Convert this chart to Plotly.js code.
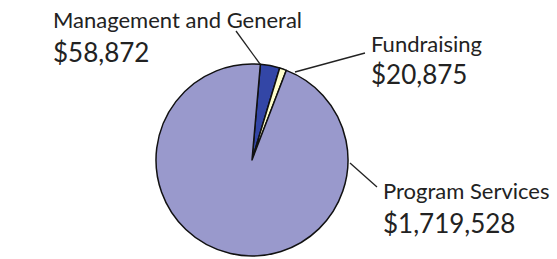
<!DOCTYPE html>
<html>
<head>
<meta charset="utf-8">
<script src="https://cdn.plot.ly/plotly-3.0.1.min.js"></script>
<style>html,body{margin:0;padding:0;background:#fff;}#chart{width:557px;height:259px;}</style>
</head>
<body>
<div id="chart"></div>
<script>
var categories = ["Management and General", "Fundraising", "Program Services"];
var amounts = [58872, 20875, 1719528];
var sliceColors = ["#3346a6", "#ffffcc", "#9999cc"];

var W = 557, H = 259;
function px(x) { return x / W; }
function py(y) { return 1 - y / H; }
function money(v) { return "$" + v.toLocaleString("en-US"); }

// label placement (pixels) and leader lines
var labelPos = [
  {x: 51, yl: 20, yv: 52, line: [[260, 64], [236, 31]]},
  {x: 369, yl: 43, yv: 74, line: [[295, 72], [365, 53]]},
  {x: 381, yl: 190, yv: 223, line: [[350, 163], [377, 187]]}
];

var annotations = [];
var shapes = [];
categories.forEach(function (c, i) {
  var p = labelPos[i];
  annotations.push({xref: "paper", yref: "paper", x: px(p.x), y: py(p.yl), xanchor: "left", yanchor: "middle",
    text: c, showarrow: false, font: {family: "Lato, sans-serif", size: 22, color: "#222"}});
  annotations.push({xref: "paper", yref: "paper", x: px(p.x), y: py(p.yv), xanchor: "left", yanchor: "middle",
    text: money(amounts[i]), showarrow: false, font: {family: "Lato, sans-serif", size: 26, color: "#222"}});
  shapes.push({type: "line", xref: "paper", yref: "paper",
    x0: px(p.line[0][0]), y0: py(p.line[0][1]), x1: px(p.line[1][0]), y1: py(p.line[1][1]),
    line: {color: "#222", width: 1.3}});
});

var data = [{
  type: "pie",
  labels: categories,
  values: amounts,
  sort: false,
  direction: "clockwise",
  rotation: 5,
  textinfo: "none",
  hoverinfo: "label+value",
  marker: {colors: sliceColors, line: {color: "#111", width: 1.5}},
  domain: {x: [px(156), px(348)], y: [1 - 256 / H, 1 - 64 / H]}
}];

var layout = {
  width: W, height: H,
  margin: {l: 0, r: 0, t: 0, b: 0},
  showlegend: false,
  paper_bgcolor: "#fff",
  annotations: annotations,
  shapes: shapes
};

Plotly.newPlot("chart", data, layout, {displayModeBar: false, staticPlot: true});
</script>
</body>
</html>
